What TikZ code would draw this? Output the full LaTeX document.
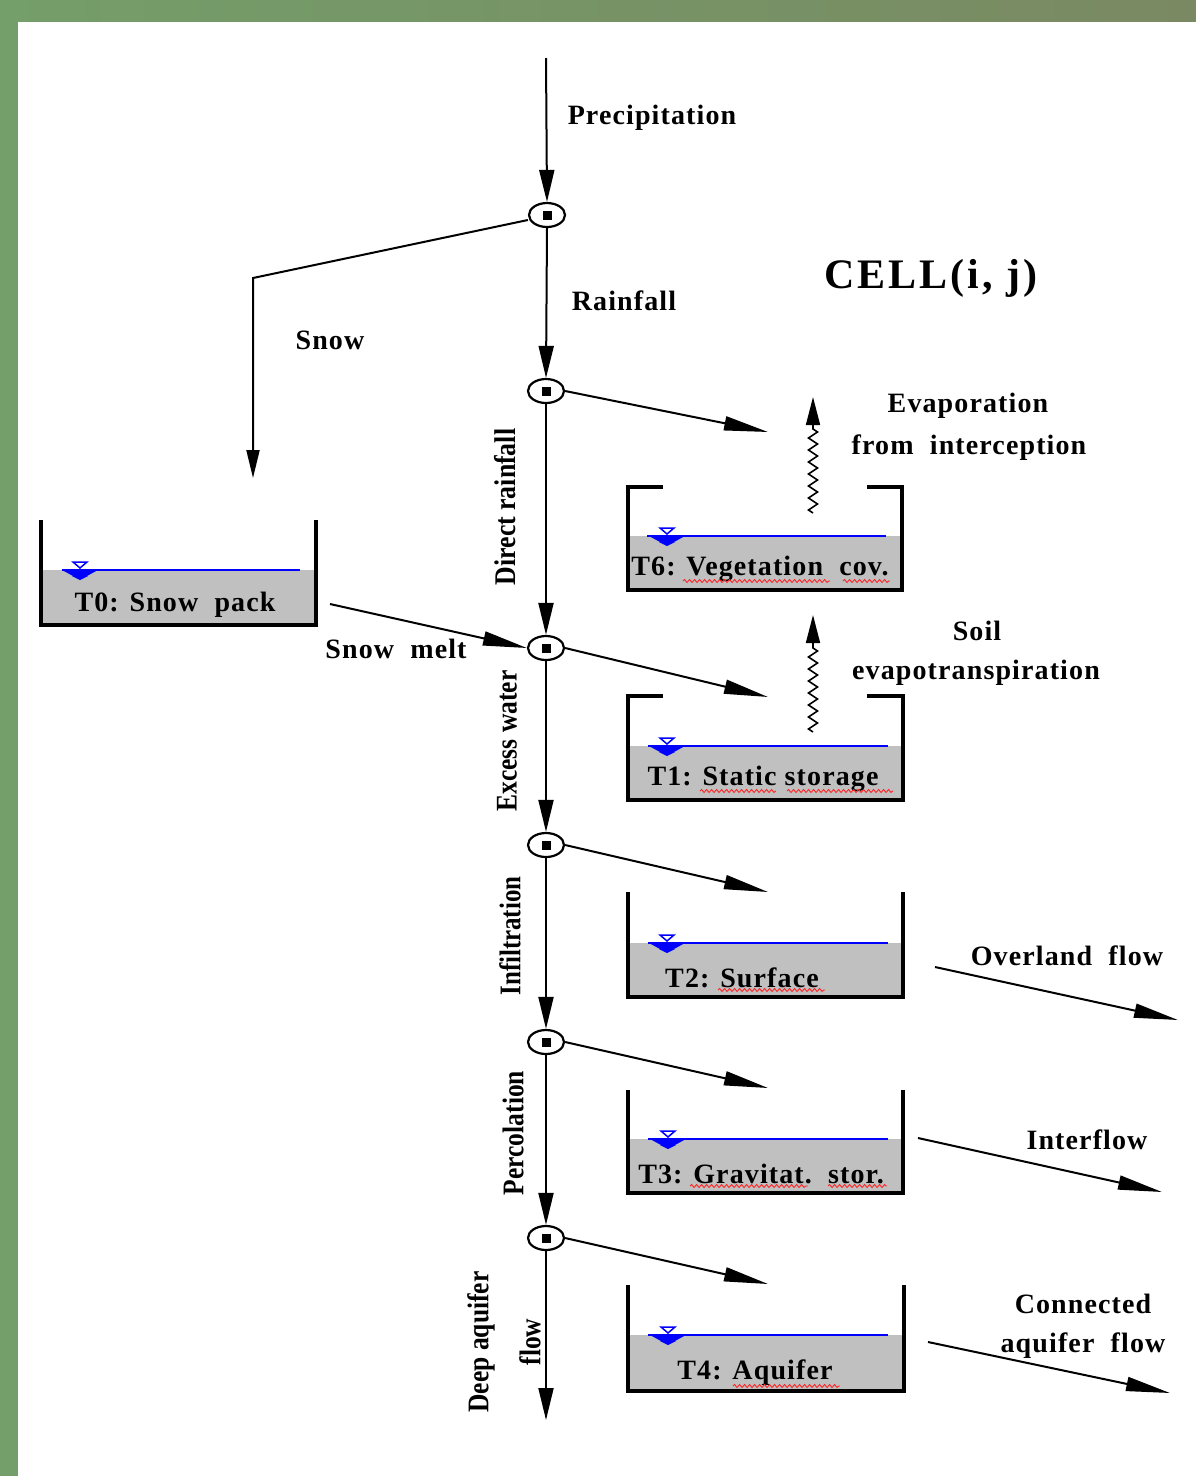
\documentclass[tikz,border=0pt]{standalone}
\usepackage{fontspec}
\setmainfont{Liberation Serif}
\newfontfamily\lblfont{Liberation Serif}[LetterSpace=4]
\newfontfamily\bigfont{Liberation Serif}[LetterSpace=7]
\usetikzlibrary{arrows.meta,shapes.geometric,decorations.pathmorphing}
\definecolor{frameL}{RGB}{116,158,106}
\definecolor{frameR}{RGB}{122,137,98}
\definecolor{watergray}{RGB}{192,192,192}
\tikzset{
  lbl/.style={font=\lblfont\bfseries\fontsize{28}{32}\selectfont, inner sep=0pt, yshift=-3pt},
  biglbl/.style={font=\bigfont\bfseries\fontsize{42}{46}\selectfont, inner sep=0pt, yshift=-2pt},
  rlbl/.style={font=\rmfamily\bfseries\fontsize{30}{34}\selectfont, rotate=90, inner sep=0pt},
  flow/.style={line width=2pt, -{Triangle[length=32pt,width=15pt]}},
  diag/.style={line width=2pt, -{Triangle[length=44pt,width=14pt]}},
  plain/.style={line width=2pt},
  wall/.style={line width=3.5pt, line join=miter},
  level/.style={blue, line width=2pt},
  junction/.style={ellipse, draw, line width=2.2pt, minimum width=36pt, minimum height=24pt, inner sep=0pt,
    path picture={\fill (path picture bounding box.center) +(-4.5pt,-4.5pt) rectangle +(4.5pt,4.5pt);}},
  wavy/.style={line width=1.6pt, decorate, decoration={zigzag, amplitude=4.5pt, segment length=12pt}},
  wavytip/.style={line width=1.6pt, -{Triangle[length=28pt,width=14pt]}},
  spell/.style={red!85!white, line width=0.9pt, decorate, decoration={snake, amplitude=1.5pt, segment length=5pt}},
  wlsym/.pic={
    \draw[blue, line width=1.5pt] (-7,-8) -- (7,-8) -- (0,-2) -- cycle;
    \fill[blue] (-18,0) -- (18,0) -- (7,6) -- (-7,6) -- cycle;
    \fill[blue] (-8,6) -- (8,6) -- (0,10) -- cycle;
  }
}
% tank: name, L, R, T, B, level, blue-left, blue-right, lips(0/1)
\newcommand\drawtank[9]{%
  \fill[watergray] (#2,#6) rectangle (#3,#5);
  \draw[level] (#7,#6) -- (#8,#6);
  \ifnum#9=1
    \draw[wall] (663,#4) -- (#2,#4) -- (#2,#5) -- (#3,#5) -- (#3,#4) -- (867,#4);
  \else
    \draw[wall] (#2,#4) -- (#2,#5) -- (#3,#5) -- (#3,#4);
  \fi
  \coordinate (#1) at ({(#2+#3)/2},{(#4+#5)/2});
}
\begin{document}
\begin{tikzpicture}[x=1pt,y=-1pt]
\useasboundingbox (0,0) rectangle (1196,1476);
% frame
\shade[left color=frameL, right color=frameR] (0,0) rectangle (1196,1476);
\fill[white] (18,22) rectangle (1196,1476);

% junctions
\node[junction] (j0) at (547,215) {};
\node[junction] (j1) at (546,391) {};
\node[junction] (j2) at (546,648) {};
\node[junction] (j3) at (546,845) {};
\node[junction] (j4) at (546,1042) {};
\node[junction] (j5) at (546,1238) {};

% tanks
\drawtank{t0}{41}{316}{520}{625}{570}{62}{300}{0}
\drawtank{t6}{628}{902}{487}{590}{536}{647}{886}{1}
\drawtank{t1}{628}{903}{696}{800}{746}{648}{888}{1}
\drawtank{t2}{628}{903}{892}{997}{943}{648}{888}{0}
\drawtank{t3}{628}{903}{1090}{1193}{1139}{648}{888}{0}
\drawtank{t4}{628}{904}{1285}{1391}{1335}{648}{888}{0}
\pic at (80,570) {wlsym};
\pic at (667,536) {wlsym};
\pic at (667,746) {wlsym};
\pic at (667,943) {wlsym};
\pic at (668,1139) {wlsym};
\pic at (668,1335) {wlsym};

% tank labels
\node[lbl] (l0) at (175,602) {T0: Snow\ \ pack};
\node[lbl] (l6) at (760,566) {T6: Vegetation\ \ cov.};
\node[lbl] (l1) at (763,776) {T1: Static storage};
\node[lbl] (l2) at (742,975) {T2: Surface};
\node[lbl] (l3) at (761,1171) {T3: Gravitat.\ \ stor.};
\node[lbl] (l4) at (755,1370) {T4: Aquifer};

% spell-check underlines
\draw[spell] (683,581) -- (830,581);
\draw[spell] (843,581) -- (890,581);
\draw[spell] (700,791) -- (776,791);
\draw[spell] (787,791) -- (893,791);
\draw[spell] (718,990) -- (825,990);
\draw[spell] (690,1186) -- (808,1186);
\draw[spell] (828,1186) -- (887,1186);
\draw[spell] (733,1386) -- (840,1386);

% coordinates for free ends
\coordinate (ptop) at (546,58);
\coordinate (snowcorner) at (253,278);
\coordinate (snowend) at (253,478);
\coordinate (e1) at (768,432);
\coordinate (e2) at (768,697);
\coordinate (e3) at (768,892);
\coordinate (e4) at (768,1088);
\coordinate (e5) at (768,1284);
\coordinate (bottom) at (546,1420);
\coordinate (meltstart) at (330,604);
\coordinate (ov1) at (935,967);   \coordinate (ov2) at (1178,1020);
\coordinate (if1) at (918,1138);  \coordinate (if2) at (1162,1192);
\coordinate (ca1) at (928,1342);  \coordinate (ca2) at (1170,1393);
\coordinate (w6a) at (813,513);   \coordinate (w6b) at (813,426);  \coordinate (w6c) at (813,397);
\coordinate (w1a) at (813,732);   \coordinate (w1b) at (813,645);  \coordinate (w1c) at (813,615);

% vertical flow
\draw[flow] (ptop) -- (j0.north);
\draw[flow] (j0.south) -- (j1.north);
\draw[flow] (j1.south) -- (j2.north);
\draw[flow] (j2.south) -- (j3.north);
\draw[flow] (j3.south) -- (j4.north);
\draw[flow] (j4.south) -- (j5.north);
\draw[flow] (j5.south) -- (bottom);

% snow branch
\draw[plain, -{Triangle[length=28pt,width=13pt]}] (j0.west) ++(0,5) -- (snowcorner) -- (snowend);
\draw[diag] (meltstart) -- (j2.west);

% diagonal branches
\draw[diag] (j1.east) -- (e1);
\draw[diag] (j2.east) -- (e2);
\draw[diag] (j3.east) -- (e3);
\draw[diag] (j4.east) -- (e4);
\draw[diag] (j5.east) -- (e5);

% outflows
\draw[diag] (ov1) -- (ov2);
\draw[diag] (if1) -- (if2);
\draw[diag] (ca1) -- (ca2);

% evaporation wavy arrows
\draw[wavy] (w6a) -- (w6b);
\draw[wavytip] (w6b) -- (w6c);
\draw[wavy] (w1a) -- (w1b);
\draw[wavytip] (w1b) -- (w1c);

% labels
\node[lbl] (precip) at (652,115) {Precipitation};
\node[lbl] (rain) at (624,298) {Rainfall};
\node[lbl] (snow) at (330,337) {Snow};
\node[biglbl] (cell) at (931,276) {CELL(i, j)};
\node[lbl] (evap1) at (968,403) {Evaporation};
\node[lbl] (evap2) at (969,445) {from\ \ interception};
\node[lbl] (melt) at (396,646) {Snow\ \ melt};
\node[lbl] (soil1) at (977,628) {Soil};
\node[lbl] (soil2) at (976,670) {evapotranspiration};
\node[lbl] (over) at (1067,953) {Overland\ \ flow};
\node[lbl] (inter) at (1087,1137) {Interflow};
\node[lbl] (conn1) at (1083,1301) {Connected};
\node[lbl] (conn2) at (1083,1343) {aquifer\ \ flow};

% rotated labels
\node[rlbl] (dr) at (505,507) {\scalebox{0.86}[1]{Direct rainfall}};
\node[rlbl] (ew) at (507,741) {\scalebox{0.85}[1]{Excess water}};
\node[rlbl] (inf) at (510,936) {\scalebox{0.83}[1]{Infiltration}};
\node[rlbl] (perc) at (513,1133) {\scalebox{0.85}[1]{Percolation}};
\node[rlbl] (deep) at (481,1342) {\scalebox{0.85}[1]{Deep aquifer}};
\node[rlbl] (dflow) at (530,1342) {\scalebox{0.85}[1]{flow}};
\end{tikzpicture}
\end{document}
